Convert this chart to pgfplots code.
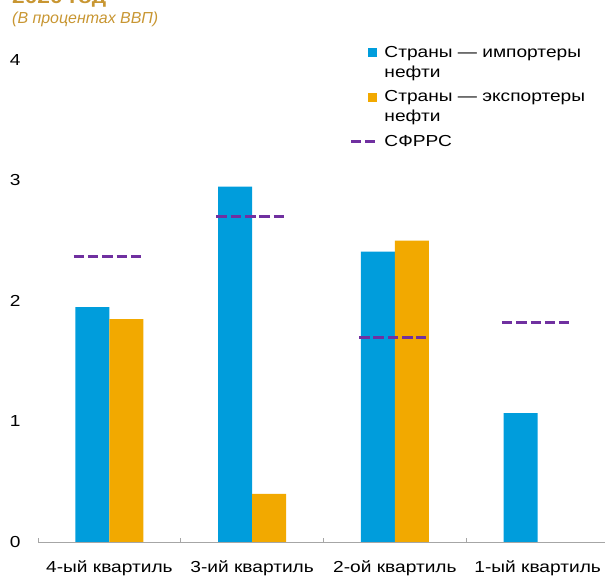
\documentclass[border=0pt]{standalone}
\usepackage{fontspec}
\setmainfont{Liberation Sans}[FakeStretch=1.2]
\newfontfamily\plainsans{Liberation Sans}
\usepackage{pgfplots}
\pgfplotsset{compat=1.18}
\definecolor{cblue}{RGB}{0,157,220}
\definecolor{corange}{RGB}{242,169,0}
\definecolor{cpurple}{RGB}{112,48,160}
\definecolor{cgold}{RGB}{200,150,50}
\definecolor{cgray}{RGB}{166,166,166}
\begin{document}
\begin{tikzpicture}[x=1bp,y=1bp]
\useasboundingbox (0,0) rectangle (605,578);
\node[anchor=base west, inner sep=0, text=cgold, font=\fontsize{19}{23}\selectfont\bfseries] at (12,574) {2020 год};
\node[anchor=base west, inner sep=0, text=cgold, font=\plainsans\fontsize{16}{19}\selectfont\itshape] at (12,554) {(В процентах ВВП)};
\begin{axis}[
  at={(38bp,36bp)}, anchor=south west,
  scale only axis, width=571bp, height=482bp,
  xmin=-0.5, xmax=3.5, ymin=0, ymax=4,
  axis x line*=bottom, axis y line*=left,
  y axis line style={draw=none},
  x axis line style={draw=cgray, line width=0.8bp, -},
  ytick={0,1,2,3,4},
  xtick={0,1,2,3},
  xticklabels={4-ый квартиль,3-ий квартиль,2-ой квартиль,1-ый квартиль},
  minor xtick={-0.5,0.5,1.5,2.5,3.5},
  major tick length=0pt, minor tick length=4bp, tick align=inside,
  minor x tick style={cgray, line width=0.8bp},
  ticklabel style={font=\fontsize{16}{19}\selectfont, text=black},
  /pgf/number format/assume math mode=true,
  yticklabel style={xshift=-14bp},
  xticklabel style={anchor=base, yshift=-31bp},
  clip=false,
  unbounded coords=jump,
  legend cell align=left,
  legend style={draw=none, fill=none, inner sep=0pt, align=left,
    at={(0.546,1.0332)}, anchor=north west,
    font=\fontsize{16}{20}\selectfont,
    row sep=8bp,
    /tikz/every odd column/.append style={column sep=5bp}},
]
\addplot[ybar, bar width=34bp, bar shift=-17bp, fill=cblue, draw=none,
  legend image code/.code={\path[fill=none, draw=none] (0bp,-4.5bp) rectangle (26bp,4.5bp); \fill[cblue] (17bp,5bp) rectangle (26bp,14bp);}]
  coordinates {(0,1.95) (1,2.95) (2,2.41) (3,1.07)};
\addlegendentry{Страны — импортеры\\нефти}
\addplot[ybar, bar width=34bp, bar shift=17bp, fill=corange, draw=none,
  legend image code/.code={\path[fill=none, draw=none] (0bp,-4.5bp) rectangle (26bp,4.5bp); \fill[corange] (17bp,5bp) rectangle (26bp,14bp);}]
  coordinates {(0,1.85) (1,0.40) (2,2.50)};
\addlegendentry{Страны — экспортеры\\нефти}
\addplot[cpurple, line width=3bp, dash pattern=on 10.5bp off 3.8bp,
  legend image code/.code={\draw[cpurple, line width=3bp, dash pattern=on 10bp off 4bp] (0bp,0bp) -- (24bp,0bp);}]
  coordinates {(-0.25,2.37) (0.22,2.37) (0.5,nan) (0.75,2.70) (1.22,2.70) (1.5,nan) (1.75,1.70) (2.22,1.70) (2.5,nan) (2.75,1.82) (3.22,1.82)};
\addlegendentry{СФРРС}
\end{axis}
\end{tikzpicture}
\end{document}
